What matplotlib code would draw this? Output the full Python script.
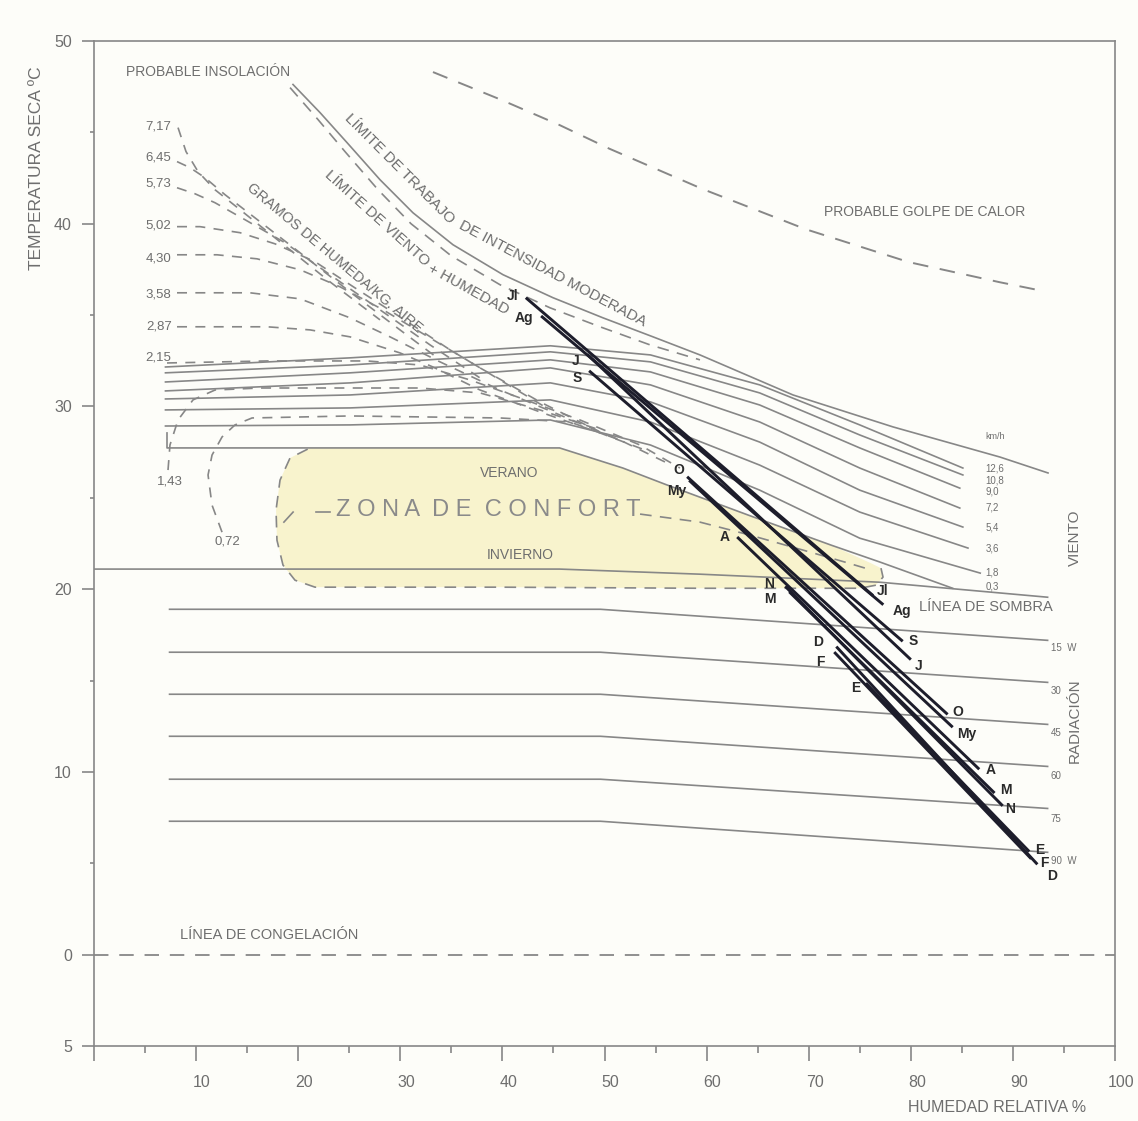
import matplotlib
matplotlib.use('Agg')
import matplotlib.pyplot as plt
from matplotlib.patches import Polygon
from matplotlib.transforms import ScaledTranslation

plt.rcParams['font.family'] = ['Liberation Sans', 'DejaVu Sans']

# --- datos (humedad relativa %, temperatura ºC) ---

# limites superiores
lim_trabajo_hr = [19.49, 22.14, 24.78, 28.01, 31.24, 35.16, 40.06, 44.96, 49.85, 54.75,
                  59.35, 68.46, 78.26, 88.74, 93.44]
lim_trabajo_t = [47.62, 46.08, 44.44, 42.41, 40.60, 38.85, 37.21, 35.95, 34.85, 33.81,
                 32.82, 30.63, 28.88, 27.23, 26.36]
lim_viento_hr = [19.20, 21.94, 24.58, 27.82, 31.05, 34.97, 39.77, 44.66, 49.56, 54.46, 59.35]
lim_viento_t = [47.45, 45.70, 43.95, 41.86, 40.00, 38.25, 36.66, 35.40, 34.36, 33.37, 32.55]
golpe_hr = [33.2, 39.8, 45.6, 50.5, 59.6, 69.7, 79.8, 88.7, 93.1]
golpe_t = [48.3, 46.8, 45.4, 44.1, 41.9, 39.7, 37.9, 36.8, 36.3]

# gramos de humedad / kg aire
humedad_etiq = ['7,17', '6,45', '5,73', '5,02', '4,30', '3,58', '2,87', '2,15']
humedad_etiq_t = [45.3, 43.6, 42.2, 39.9, 38.1, 36.1, 34.4, 32.7]
humedad_hr = [
    [8.23, 9.01, 10.19, 11.85, 14.30, 18.22, 23.11, 28.01],
    [8.13, 9.40, 10.87, 12.83, 16.26, 20.18, 25.07, 29.97, 33.89],
    [8.13, 9.89, 11.85, 14.79, 18.71, 23.11, 28.01, 32.91, 37.81],
    [8.13, 10.38, 14.30, 17.73, 21.65, 25.56, 29.97, 34.87, 39.77, 44.66],
    [8.13, 12.05, 15.96, 20.18, 24.09, 28.31, 32.91, 37.81, 43.68, 49.56],
    [8.13, 15.28, 20.18, 25.07, 28.99, 33.89, 39.77, 45.64, 51.52, 55.93],
    [8.13, 16.94, 21.16, 25.07, 29.97, 33.20, 37.81, 43.68, 49.56, 54.46],
    [7.15, 16.94, 26.74, 31.93, 36.83, 41.72, 47.60, 53.48, 57.39],
    [7.25, 7.44, 8.23, 9.70, 11.85, 16.26, 31.93, 37.81, 43.68, 49.56],
    [12.54, 11.56, 11.17, 11.56, 12.54, 13.81, 15.48, 25.07, 39.77, 46.62, 51.52],
]
humedad_t = [
    [45.26, 43.95, 42.85, 41.86, 40.77, 39.01, 36.82, 34.74],
    [43.40, 43.07, 42.52, 41.59, 40.11, 38.41, 36.27, 34.19, 32.55],
    [41.97, 41.64, 41.15, 40.22, 38.96, 37.21, 35.29, 33.37, 31.56],
    [39.84, 39.84, 39.51, 38.90, 37.92, 36.49, 34.90, 33.10, 31.45, 29.81],
    [38.30, 38.30, 38.08, 37.48, 36.55, 35.29, 33.75, 32.11, 30.25, 28.60],
    [36.22, 36.22, 35.89, 34.85, 33.81, 32.44, 30.90, 29.53, 28.16, 26.96],
    [34.36, 34.36, 34.19, 33.81, 32.93, 32.16, 30.90, 29.70, 28.55, 27.51],
    [32.38, 32.49, 32.49, 32.27, 31.45, 30.47, 29.26, 27.89, 26.63],
    [26.52, 27.89, 29.26, 30.36, 30.90, 31.01, 31.01, 30.74, 29.81, 28.71],
    [23.12, 24.60, 26.25, 27.34, 28.33, 28.99, 29.37, 29.48, 29.37, 29.15, 28.16],
]

# viento (km/h)
viento_etiq = ['12,6', '10,8', '9,0', '7,2', '5,4', '3,6', '1,8', '0,3']
viento_etiq_t = [26.63, 25.97, 25.32, 24.49, 23.40, 22.25, 20.93, 20.16]
viento_hr = [
    [7.0, 25.1, 44.7, 54.5, 65.2, 75.0, 85.1],
    [7.0, 25.1, 44.7, 54.5, 65.2, 75.0, 85.1],
    [7.0, 25.1, 44.7, 54.5, 65.2, 75.0, 84.8],
    [7.0, 25.1, 44.7, 54.5, 65.2, 75.0, 84.8],
    [7.0, 25.1, 44.7, 54.5, 65.2, 75.0, 85.1],
    [7.0, 25.1, 44.7, 54.5, 65.2, 75.0, 85.6],
    [7.0, 25.1, 44.7, 54.5, 65.2, 75.0, 86.8],
    [7.15, 7.15, 45.6, 51.8, 55.9, 64.1, 72.2, 77.0, 84.1],
]
viento_t = [
    [32.16, 32.66, 33.32, 32.82, 31.18, 28.99, 26.63],
    [31.84, 32.27, 32.99, 32.44, 30.74, 28.44, 26.25],
    [31.34, 31.84, 32.55, 31.89, 30.08, 27.73, 25.53],
    [30.85, 31.29, 32.11, 31.18, 29.15, 26.63, 24.44],
    [30.41, 30.63, 31.29, 30.25, 28.05, 25.42, 23.40],
    [29.81, 29.92, 30.36, 29.15, 26.79, 24.22, 22.25],
    [28.93, 28.99, 29.26, 27.89, 25.42, 22.79, 20.88],
    [28.55, 27.73, 27.73, 26.63, 25.75, 24.05, 22.41, 21.48, 20.05],
]

# linea de sombra
sombra_hr = [0.0, 45.6, 59.4, 77.0, 93.4]
sombra_t = [21.10, 21.10, 20.82, 20.38, 19.56]

# radiacion (W)
radiacion_etiq = ['15  W', '30', '45', '60', '75', '90  W']
radiacion_etiq_t = [16.77, 14.41, 12.11, 9.75, 7.45, 5.15]
radiacion_hr = [7.4, 49.6, 93.4]
radiacion_t = [
    [18.9, 18.9, 17.2],
    [16.55, 16.55, 14.9],
    [14.25, 14.25, 12.6],
    [11.95, 11.95, 10.3],
    [9.6, 9.6, 8.0],
    [7.3, 7.3, 5.6],
]

# zona de confort
zona_arriba_hr = [20.2, 45.6, 51.8, 55.9, 64.1, 72.2, 76.1]
zona_arriba_t = [27.73, 27.73, 26.63, 25.75, 24.05, 22.41, 21.42]
zona_borde_hr = [77.08, 77.28, 76.59, 75.02, 59.35, 39.77, 21.65, 19.69, 18.51, 17.92,
                 17.83, 18.22, 19.20, 21.16]
zona_borde_t = [21.15, 20.66, 20.22, 20.05, 20.05, 20.11, 20.11, 20.49, 21.32, 22.68,
                24.33, 25.97, 27.18, 27.73]
zona_media_hr = [53.48, 59.35, 64.25, 70.13, 73.56, 76.20]
zona_media_t = [24.11, 23.67, 22.96, 22.03, 21.48, 21.04]
zona_guion_hr = [21.7, 23.1]
zona_guion_t = [24.22, 24.22]
zona_barra_hr = [18.6, 19.5]
zona_barra_t = [23.67, 24.22]

# meses
meses = ['Jl', 'Ag', 'J', 'S', 'O', 'My', 'A', 'N', 'M', 'D', 'F', 'E']
mes_hr_ini = [42.4, 43.9, 48.4, 48.6, 58.2, 58.4, 63.1, 67.8, 68.2, 72.8, 72.6, 75.7]
mes_t_ini = [35.9, 34.9, 32.8, 31.9, 26.1, 25.9, 22.8, 20.1, 19.8, 16.8, 16.5, 14.8]
mes_hr_fin = [76.2, 77.2, 79.9, 79.1, 83.5, 84.0, 86.6, 88.9, 88.1, 92.3, 91.7, 91.5]
mes_t_fin = [19.7, 19.2, 16.2, 17.2, 13.2, 12.5, 10.2, 8.2, 8.9, 5.0, 5.3, 5.7]
etiq_ini_hr = [41.0, 42.1, 47.2, 47.3, 57.3, 57.1, 61.8, 66.1, 66.2, 70.9, 71.1, 74.6]
etiq_ini_t = [36.05, 34.85, 32.5, 31.55, 26.5, 25.4, 22.85, 20.3, 19.45, 17.1, 16.0, 14.6]
etiq_fin_hr = [77.2, 79.1, 80.8, 80.2, 84.6, 85.5, 87.8, 89.7, 89.3, 93.8, 93.1, 92.6]
etiq_fin_t = [19.9, 18.8, 15.8, 17.15, 13.3, 12.1, 10.1, 7.95, 9.0, 4.3, 5.0, 5.7]

# --- dibujo ---
GRIS = '#878787'
TEXTO = '#6e6e6e'
OSCURO = '#1d1d2b'

fig = plt.figure(figsize=(11.38, 11.21), dpi=100, facecolor='#fdfdf9')
ax = fig.add_axes([94 / 1138, 75 / 1121, 1021 / 1138, 1005 / 1121])
ax.set_facecolor('#fdfdf9')
ax.set_xlim(0, 100)
ax.set_ylim(-5, 50)

for s in ax.spines.values():
    s.set_color(GRIS)
    s.set_linewidth(1.2)

ax.set_xticks(range(0, 101, 10))
ax.set_xticklabels([''] + [str(v) for v in range(10, 101, 10)])
ax.set_xticks(range(5, 100, 10), minor=True)
ax.set_yticks([-5, 0, 10, 20, 30, 40, 50])
ax.set_yticklabels(['5', '0', '10', '20', '30', '40', '50'])
ax.set_yticks(range(5, 50, 10), minor=True)
ax.tick_params(axis='x', which='major', direction='out', length=11, width=1.2,
               color=GRIS, labelcolor=TEXTO, labelsize=11.5, pad=10)
ax.tick_params(axis='x', which='minor', direction='out', length=5, width=1.2, color=GRIS)
ax.tick_params(axis='y', which='major', direction='out', length=9, width=1.2,
               color=GRIS, labelcolor=TEXTO, labelsize=11.5, pad=7)
ax.tick_params(axis='y', which='minor', direction='out', length=3, width=1.2, color=GRIS)
for lab in ax.get_xticklabels():
    lab.set_transform(lab.get_transform() + ScaledTranslation(0.06, 0, fig.dpi_scale_trans))

# zona de confort (relleno)
poly_hr = zona_arriba_hr + zona_borde_hr
poly_t = zona_arriba_t + zona_borde_t
ax.add_patch(Polygon(list(zip(poly_hr, poly_t)), closed=True, facecolor='#f8f3cd',
                     edgecolor='none', zorder=1))
ax.plot(zona_borde_hr, zona_borde_t, color=GRIS, lw=1.2, dashes=(7, 5), zorder=2)
ax.plot(zona_media_hr, zona_media_t, color=GRIS, lw=1.2, dashes=(7, 5), zorder=2)
ax.plot(zona_guion_hr, zona_guion_t, color=GRIS, lw=1.2, zorder=2)
ax.plot(zona_barra_hr, zona_barra_t, color=GRIS, lw=1.2, zorder=2)

# limites y golpe de calor
ax.plot(lim_trabajo_hr, lim_trabajo_t, color=GRIS, lw=1.2, zorder=2)
ax.plot(lim_viento_hr, lim_viento_t, color=GRIS, lw=1.2, dashes=(7, 5), zorder=2)
ax.plot(golpe_hr, golpe_t, color=GRIS, lw=1.4, dashes=(8, 6), zorder=2)

# humedad
for hr, t in zip(humedad_hr, humedad_t):
    ax.plot(hr, t, color=GRIS, lw=1.2, dashes=(6, 5), zorder=2)
for lab, t in zip(humedad_etiq, humedad_etiq_t):
    ax.text(7.6, t, lab, ha='right', va='center', fontsize=9.5, color=TEXTO)
ax.text(7.4, 25.9, '1,43', ha='center', va='center', fontsize=9.5, color=TEXTO)
ax.text(13.1, 22.6, '0,72', ha='center', va='center', fontsize=9.5, color=TEXTO)

# viento
for hr, t in zip(viento_hr, viento_t):
    ax.plot(hr, t, color=GRIS, lw=1.2, zorder=2)
for lab, t in zip(viento_etiq, viento_etiq_t):
    ax.text(87.3, t, lab, ha='left', va='center', fontsize=7, color=TEXTO)
ax.text(87.3, 28.33, 'km/h', ha='left', va='center', fontsize=6.5, color=TEXTO)

# sombra y radiacion
ax.plot(sombra_hr, sombra_t, color=GRIS, lw=1.2, zorder=2)
for t in radiacion_t:
    ax.plot(radiacion_hr, t, color=GRIS, lw=1.2, zorder=2)
for lab, t in zip(radiacion_etiq, radiacion_etiq_t):
    ax.text(93.7, t, lab, ha='left', va='center', fontsize=7, color=TEXTO)

# congelacion
ax.axhline(0, color=GRIS, lw=1.3, dashes=(8, 6), zorder=2)

# meses
for i, m in enumerate(meses):
    ax.plot([mes_hr_ini[i], mes_hr_fin[i]], [mes_t_ini[i], mes_t_fin[i]],
            color=OSCURO, lw=2.1, zorder=4)
    ax.text(etiq_ini_hr[i], etiq_ini_t[i], m, ha='center', va='center',
            fontsize=10, fontweight='bold', color='#2a2a2a', zorder=5)
    ax.text(etiq_fin_hr[i], etiq_fin_t[i], m, ha='center', va='center',
            fontsize=10, fontweight='bold', color='#2a2a2a', zorder=5)

# textos
kw = dict(color=TEXTO, ha='center', va='center', rotation_mode='anchor')
ax.text(3.1, 48.33, 'PROBABLE INSOLACIÓN', fontsize=10, color=TEXTO, ha='left', va='center')
ax.text(81.4, 40.66, 'PROBABLE GOLPE DE CALOR', fontsize=10, **kw)
ax.text(29.9, 43.0, 'LÍMITE DE TRABAJO', fontsize=11, rotation=-45, **kw)
ax.text(44.95, 37.25, 'DE INTENSIDAD MODERADA', fontsize=11, rotation=-28, **kw)
ax.text(27.7, 40.3, 'LÍMITE DE VIENTO', fontsize=11, rotation=-42, **kw)
ax.text(36.7, 36.4, '+ HUMEDAD', fontsize=11, rotation=-29, **kw)
ax.text(23.6, 38.14, 'GRAMOS DE HUMEDA/KG. AIRE', fontsize=10.5, rotation=-40, **kw)
ax.text(40.7, 26.36, 'VERANO', fontsize=10, **kw)
ax.text(41.7, 21.86, 'INVIERNO', fontsize=10, **kw)
ax.text(38.6, 24.33, 'Z O N A  D E  C O N F O R T', fontsize=17, color='#8a8a8a',
        ha='center', va='center')
ax.text(87.4, 19.0, 'LÍNEA DE SOMBRA', fontsize=10.5, **kw)
ax.text(96.1, 22.8, 'VIENTO', fontsize=11, rotation=90, **kw)
ax.text(96.1, 12.8, 'RADIACIÓN', fontsize=11, rotation=90, **kw)
ax.text(8.4, 1.05, 'LÍNEA DE CONGELACIÓN', fontsize=10.5, color=TEXTO, ha='left', va='center')

fig.text(37 / 1138, 1 - 168 / 1121, 'TEMPERATURA SECA ºC', rotation=90, fontsize=12.5,
         color=TEXTO, ha='center', va='center')
fig.text(997 / 1138, 13 / 1121, 'HUMEDAD RELATIVA %', fontsize=11.5, color=TEXTO,
         ha='center', va='center')

fig.savefig('out.png', dpi=100, facecolor=fig.get_facecolor())
